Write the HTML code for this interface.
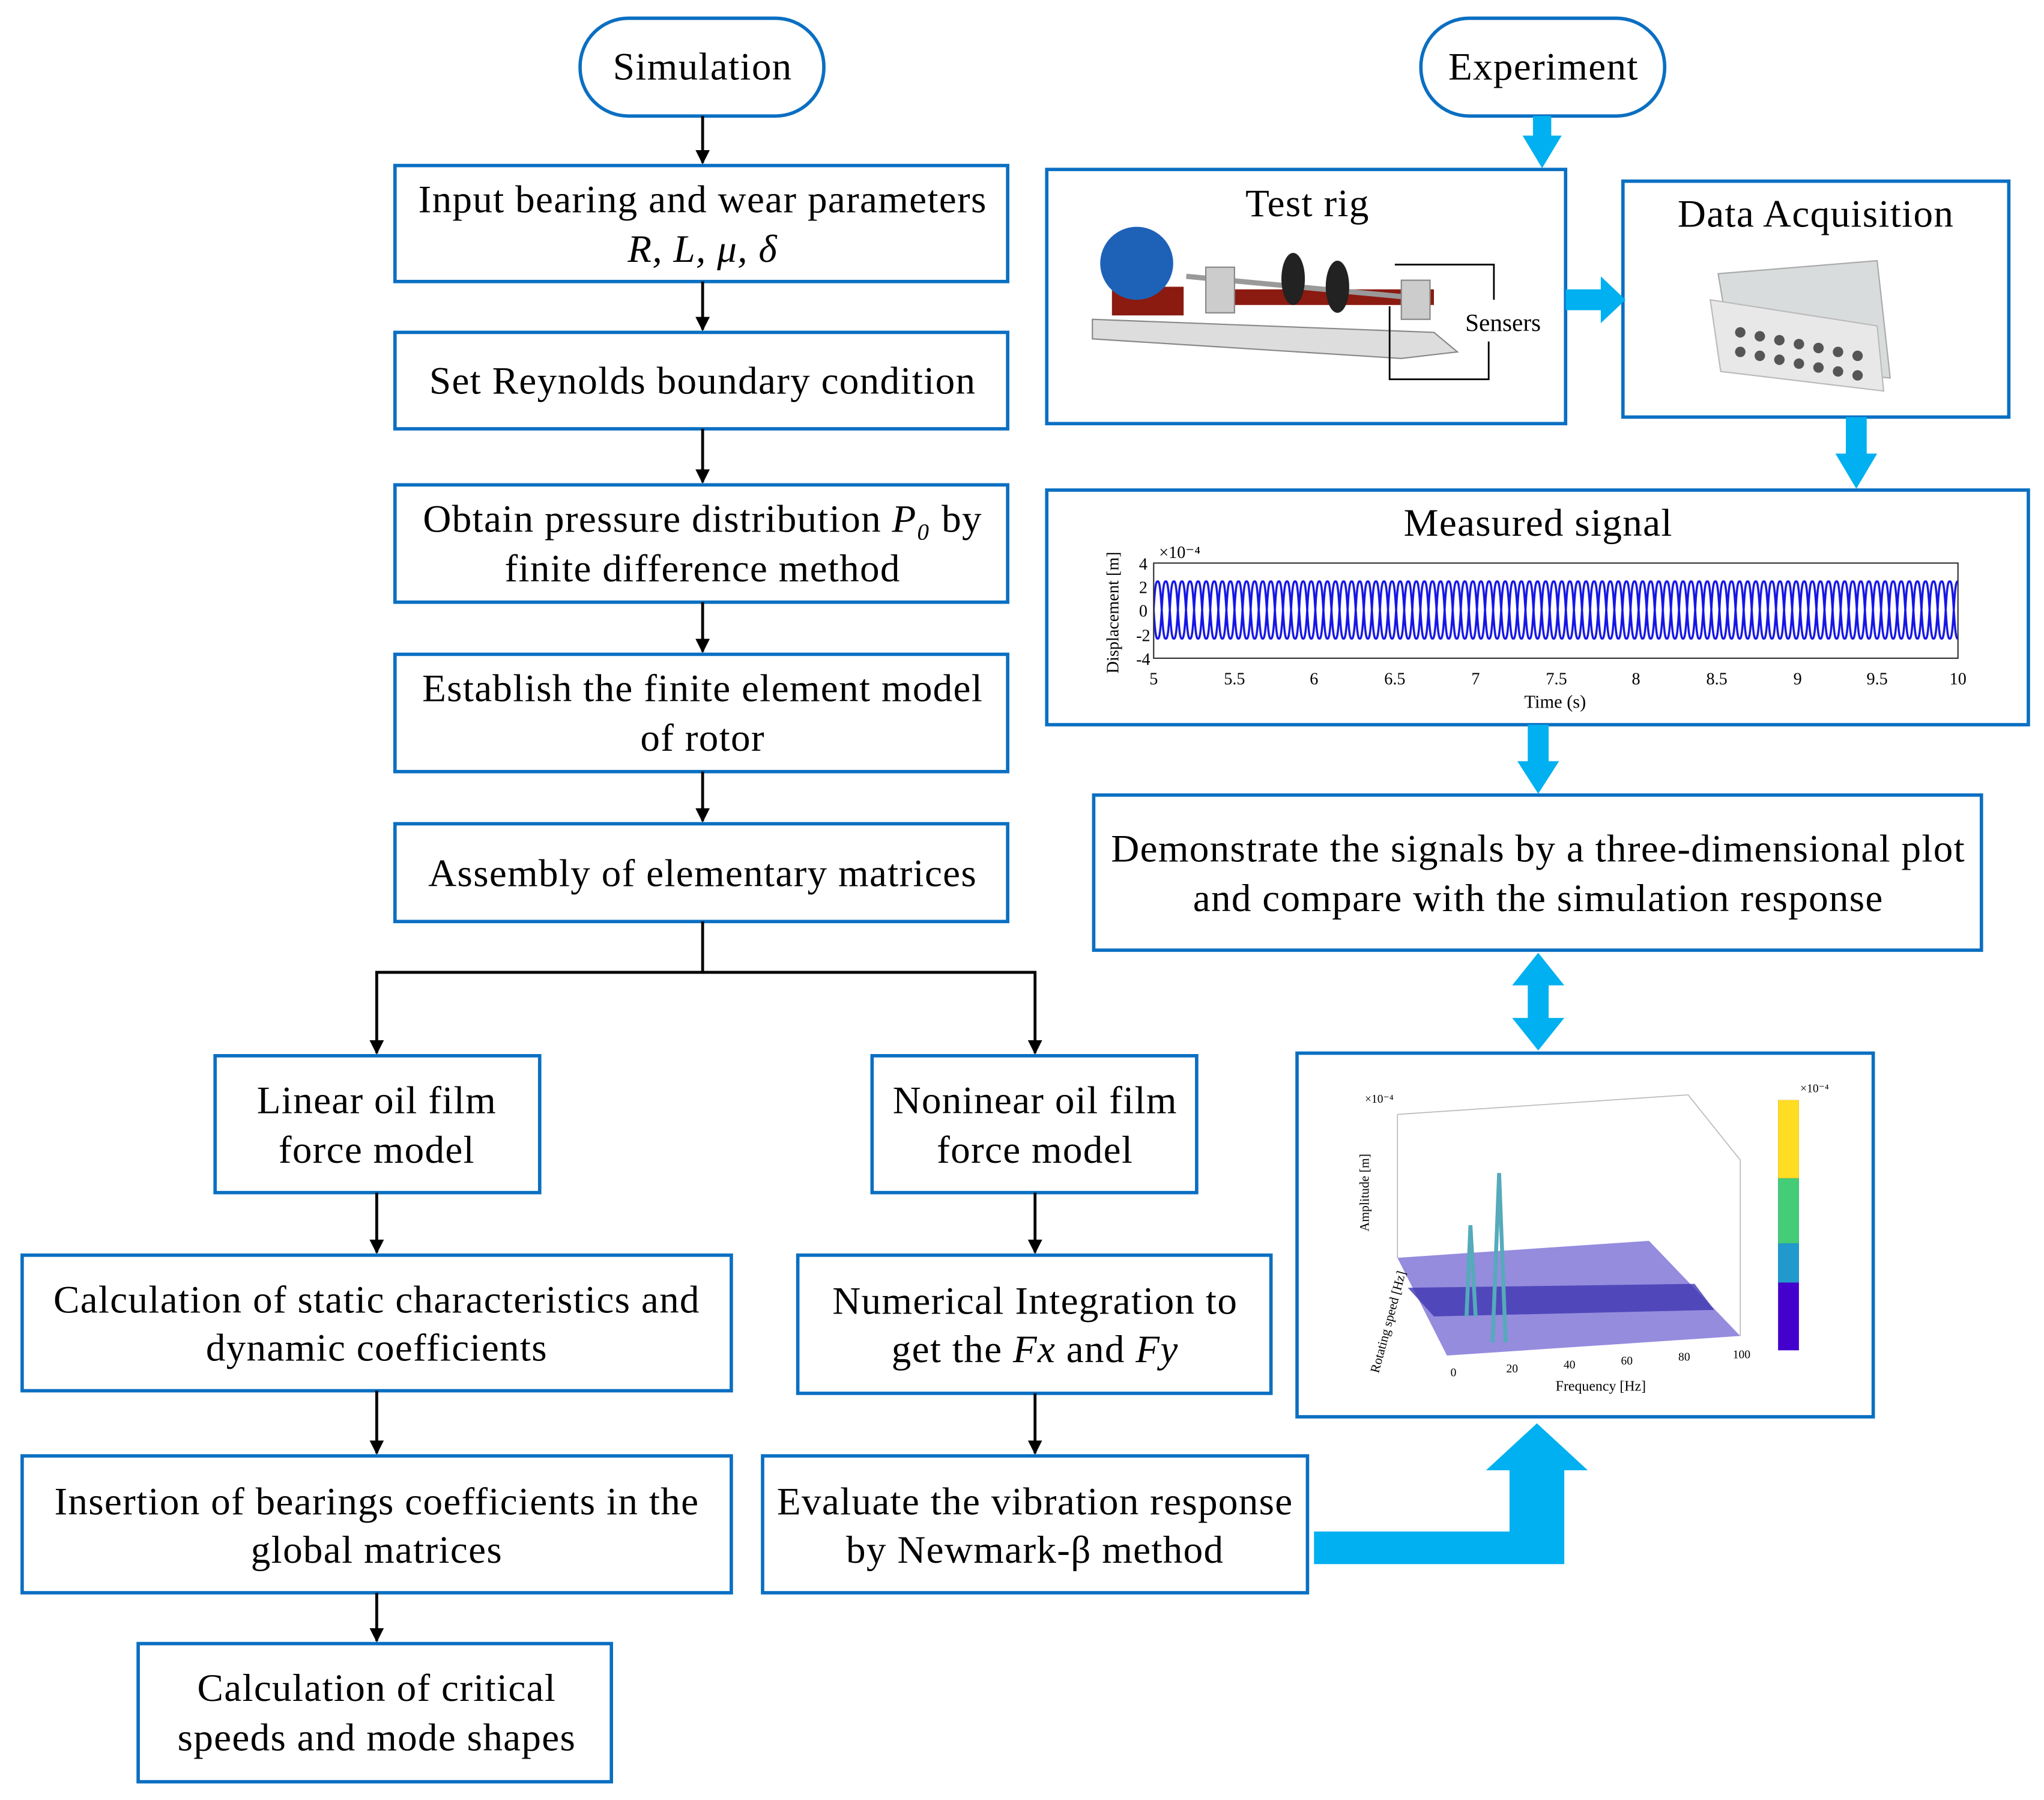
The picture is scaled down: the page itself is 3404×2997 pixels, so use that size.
<!DOCTYPE html>
<html><head><meta charset="utf-8"><style>
html,body{margin:0;padding:0;background:#fff;}
svg{display:block;}
text{font-family:"Liberation Serif",serif;fill:#000;}
</style></head><body>
<svg width="3404" height="2997" viewBox="0 0 1568 1381" preserveAspectRatio="none" xmlns="http://www.w3.org/2000/svg">
<defs>
<marker id="ah" viewBox="0 0 10 10" refX="9" refY="5" markerWidth="5" markerHeight="5" orient="auto"><path d="M0,0 L10,5 L0,10 z" fill="#000"/></marker>
<pattern id="sine" x="885" y="0" width="6.2" height="1374" patternUnits="userSpaceOnUse">
<path d="M0,468 C1,448 2,446 3.1,446 S5,448 6.2,468 M0,468 C1.2,488 2,490 3.1,490 M3.1,490 C4.2,490 5,488 6.2,468" stroke="#1515e6" stroke-width="1.6" fill="none"/>
</pattern>
</defs>
<g fill="none" stroke="#0a6fc2" stroke-width="2.6">
<rect x="445" y="14" width="187" height="75" rx="37"/>
<rect x="1090" y="14" width="187" height="75" rx="37"/>
<rect x="303" y="127" width="470" height="89"/>
<rect x="303" y="255" width="470" height="74"/>
<rect x="303" y="372" width="470" height="90"/>
<rect x="303" y="502" width="470" height="90"/>
<rect x="303" y="632" width="470" height="75"/>
<rect x="165" y="810" width="249" height="105"/>
<rect x="669" y="810" width="249" height="105"/>
<rect x="17" y="963" width="544" height="104"/>
<rect x="612" y="963" width="363" height="106"/>
<rect x="17" y="1117" width="544" height="105"/>
<rect x="585" y="1117" width="418" height="105"/>
<rect x="106" y="1261" width="363" height="106"/>
<rect x="803" y="130" width="398" height="195"/>
<rect x="1245" y="139" width="296" height="181"/>
<rect x="803" y="376" width="753" height="180"/>
<rect x="839" y="610" width="681" height="119"/>
<rect x="995" y="808" width="442" height="279"/>
</g>
<g stroke="#000" stroke-width="2.2" fill="none" marker-end="url(#ah)">
<line x1="539" y1="89" x2="539" y2="125"/>
<line x1="539" y1="216" x2="539" y2="253"/>
<line x1="539" y1="329" x2="539" y2="370"/>
<line x1="539" y1="462" x2="539" y2="500"/>
<line x1="539" y1="592" x2="539" y2="630"/>
<polyline points="539,707 539,746 289,746 289,808"/>
<polyline points="539,746 794,746 794,808"/>
<line x1="289" y1="915" x2="289" y2="961"/>
<line x1="794" y1="915" x2="794" y2="961"/>
<line x1="289" y1="1067" x2="289" y2="1115"/>
<line x1="794" y1="1069" x2="794" y2="1115"/>
<line x1="289" y1="1222" x2="289" y2="1259"/>
</g>
<g fill="#00b0f0">
<polygon points="1176,89 1190,89 1190,104 1198,104 1183,129 1168,104 1176,104"/>
<polygon points="1201,222 1228,222 1228,212 1247,230 1228,248 1228,238 1201,238"/>
<polygon points="1416,320 1432,320 1432,348 1440,348 1424,375 1408,348 1416,348"/>
<polygon points="1172,556 1188,556 1188,584 1196,584 1180,609 1164,584 1172,584"/>
<polygon points="1180,731 1200,756 1188,756 1188,781 1200,781 1180,806 1160,781 1172,781 1172,756 1160,756"/>
<polygon points="1008,1175 1158,1175 1158,1128 1140,1128 1179,1092 1218,1128 1200,1128 1200,1200 1008,1200"/>
</g>
<g font-size="30" letter-spacing="0.6" text-anchor="middle">
<text x="539" y="61">Simulation</text>
<text x="1184" y="61">Experiment</text>
<text x="539" y="163">Input bearing and wear parameters</text>
<text x="539" y="201" font-style="italic">R, L, μ, δ</text>
<text x="539" y="302">Set Reynolds boundary condition</text>
<text x="539" y="408">Obtain pressure distribution <tspan font-style="italic">P₀</tspan> by</text>
<text x="539" y="446">finite difference method</text>
<text x="539" y="538">Establish the finite element model</text>
<text x="539" y="576">of rotor</text>
<text x="539" y="680">Assembly of elementary matrices</text>
<text x="289" y="854">Linear oil film</text>
<text x="289" y="892">force model</text>
<text x="794" y="854">Noninear oil film</text>
<text x="794" y="892">force model</text>
<text x="289" y="1007">Calculation of static characteristics and</text>
<text x="289" y="1044">dynamic coefficients</text>
<text x="794" y="1008">Numerical Integration to</text>
<text x="794" y="1045">get the <tspan font-style="italic">Fx</tspan> and <tspan font-style="italic">Fy</tspan></text>
<text x="289" y="1162">Insertion of bearings coefficients in the</text>
<text x="289" y="1199">global matrices</text>
<text x="794" y="1162">Evaluate the vibration response</text>
<text x="794" y="1199">by Newmark-β method</text>
<text x="289" y="1305">Calculation of critical</text>
<text x="289" y="1343">speeds and mode shapes</text>
<text x="1003" y="166">Test rig</text>
<text x="1393" y="174">Data Acquisition</text>
<text x="1180" y="411">Measured signal</text>
<text x="1180" y="661">Demonstrate the signals by a three-dimensional plot</text>
<text x="1180" y="699">and compare with the simulation response</text>
</g>
<g>
<polygon points="838,245 1100,255 1118,270 1075,275 838,260" fill="#ddd" stroke="#888"/>
<rect x="853" y="220" width="55" height="22" fill="#8b1a10"/>
<circle cx="872" cy="202" r="28" fill="#1e62b8"/>
<rect x="925" y="222" width="175" height="12" fill="#8b1a10"/>
<line x1="910" y1="212" x2="1080" y2="228" stroke="#999" stroke-width="4"/>
<ellipse cx="992" cy="214" rx="9" ry="20" fill="#222"/>
<ellipse cx="1026" cy="220" rx="9" ry="20" fill="#222"/>
<rect x="925" y="205" width="22" height="35" fill="#ccc" stroke="#888"/>
<rect x="1075" y="215" width="22" height="30" fill="#ccc" stroke="#888"/>
<polyline points="1070,203 1146,203 1146,230" fill="none" stroke="#000" stroke-width="1.3"/>
<polyline points="1066,235 1066,291 1142,291 1142,262" fill="none" stroke="#000" stroke-width="1.3"/>
<text x="1124" y="254" font-size="19">Sensers</text>
</g>
<g>
<polygon points="1318,210 1440,200 1450,290 1330,280" fill="#d9dcdd" stroke="#aaa"/>
<polygon points="1312,230 1440,250 1445,300 1320,285" fill="#e8e8e8" stroke="#bbb"/>
<g fill="#555">
<circle cx="1335" cy="255" r="4"/><circle cx="1350" cy="258" r="4"/><circle cx="1365" cy="261" r="4"/><circle cx="1380" cy="264" r="4"/><circle cx="1395" cy="267" r="4"/><circle cx="1410" cy="270" r="4"/><circle cx="1425" cy="273" r="4"/>
<circle cx="1335" cy="270" r="4"/><circle cx="1350" cy="273" r="4"/><circle cx="1365" cy="276" r="4"/><circle cx="1380" cy="279" r="4"/><circle cx="1395" cy="282" r="4"/><circle cx="1410" cy="285" r="4"/><circle cx="1425" cy="288" r="4"/>
</g>
</g>
<rect x="885" y="432" width="617" height="73" fill="url(#sine)"/>
<rect x="885" y="432" width="617" height="73" fill="none" stroke="#333" stroke-width="1"/>
<g font-size="13" text-anchor="middle">
<text x="885" y="525">5</text><text x="947" y="525">5.5</text><text x="1008" y="525">6</text><text x="1070" y="525">6.5</text><text x="1132" y="525">7</text><text x="1194" y="525">7.5</text><text x="1255" y="525">8</text><text x="1317" y="525">8.5</text><text x="1379" y="525">9</text><text x="1440" y="525">9.5</text><text x="1502" y="525">10</text>
<text x="1193" y="543" font-size="14">Time (s)</text>
<text x="877" y="437">4</text><text x="877" y="455">2</text><text x="877" y="473">0</text><text x="877" y="492">-2</text><text x="877" y="510">-4</text>
<text x="905" y="428">×10⁻⁴</text>
<text x="858" y="470" transform="rotate(-90 858 470)" font-size="13">Displacement [m]</text>
</g>
<g stroke="#bbb" stroke-width="0.8" fill="none">
<line x1="1072" y1="855" x2="1072" y2="965"/>
<line x1="1072" y1="855" x2="1295" y2="840"/>
<line x1="1295" y1="840" x2="1335" y2="890"/>
<line x1="1335" y1="890" x2="1335" y2="1025"/>
</g>
<polygon points="1072,965 1265,952 1335,1025 1110,1040" fill="#7b6fd6" opacity="0.8"/>
<polygon points="1080,988 1300,985 1315,1005 1100,1010" fill="#3f37b0" opacity="0.8"/>
<path d="M1145,1030 L1150,900 L1155,1030 M1125,1010 L1128,940 L1132,1010" stroke="#5ab" stroke-width="3" fill="none"/>
<rect x="1364" y="844" width="16" height="192" fill="#40c"/>
<rect x="1364" y="844" width="16" height="60" fill="#fd2"/>
<rect x="1364" y="904" width="16" height="50" fill="#4c7"/>
<rect x="1364" y="954" width="16" height="30" fill="#29c"/>
<g font-size="9" text-anchor="middle">
<text x="1228" y="1067" font-size="11">Frequency [Hz]</text>
<text x="1115" y="1056">0</text><text x="1160" y="1053">20</text><text x="1204" y="1050">40</text><text x="1248" y="1047">60</text><text x="1292" y="1044">80</text><text x="1336" y="1042">100</text>
<text x="1050" y="915" transform="rotate(-90 1050 915)" font-size="10">Amplitude [m]</text>
<text x="1068" y="1015" transform="rotate(-75 1068 1015)" font-size="10">Rotating speed [Hz]</text>
<text x="1058" y="846">×10⁻⁴</text><text x="1392" y="838">×10⁻⁴</text>
</g>
</svg>
</body></html>
